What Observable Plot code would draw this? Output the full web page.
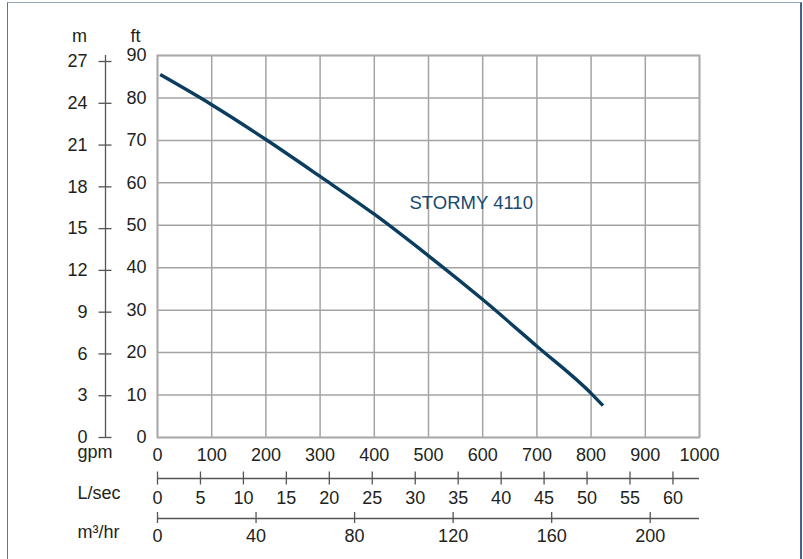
<!DOCTYPE html>
<html>
<head>
<meta charset="utf-8">
<script src="https://cdn.jsdelivr.net/npm/d3@7"></script>
<script src="https://cdn.jsdelivr.net/npm/@observablehq/plot@0.6"></script>
<style>
  html, body { margin: 0; padding: 0; background: #fff; }
  #wrap { position: relative; width: 803px; height: 559px; overflow: hidden; }
  #border { position: absolute; left: 7px; top: 2px; width: 792px; height: 600px;
            border-left: 1.5px solid #5d7699; border-right: 2px solid #41618f; border-top: 1.5px solid #93a4bd;
            pointer-events: none; }
</style>
</head>
<body>
<div id="wrap"><div id="border"></div></div>
<script>
// Pump curve (flow in gpm, head in ft)
const seriesName = "STORMY 4110";
const flowGpm = [5, 100, 200, 300, 400, 500, 600, 700, 800, 822];
const headFt  = [85.5, 78.4, 70.2, 61.5, 52.6, 42.8, 32.5, 21.5, 10.4, 7.5];

// Tick labels
const ftTicks  = [0, 10, 20, 30, 40, 50, 60, 70, 80, 90];
const mTicks   = [0, 3, 6, 9, 12, 15, 18, 21, 24, 27];
const gpmTicks = [0, 100, 200, 300, 400, 500, 600, 700, 800, 900, 1000];
const lsTicks  = [0, 5, 10, 15, 20, 25, 30, 35, 40, 45, 50, 55, 60];
const m3Ticks  = [0, 40, 80, 120, 160, 200];

// Unit conversions to the primary scales
const FT_PER_M = 3.28084;
const GPM_PER_LS = 15.8503;
const GPM_PER_M3H = 1000 / 220; // as drawn on the reference scale

const labelAt = {gpm: 465, ft: 55.3};

const curve = flowGpm.map((g, i) => ({gpm: g, ft: headFt[i]}));

const axisStroke = "#555";
const textColor = "#231f20";
const FS = 18;

const chart = Plot.plot({
  width: 803,
  height: 559,
  marginLeft: 157,
  marginRight: 104,
  marginTop: 55,
  marginBottom: 122,
  style: {fontSize: FS + "px", fontFamily: "'Liberation Sans', Arial, Helvetica, sans-serif", color: textColor, background: "transparent"},
  x: {domain: [0, 1000]},
  y: {domain: [0, 90]},
  marks: [
    Plot.gridX(gpmTicks, {stroke: "#a3a3a3", strokeOpacity: 1, strokeWidth: 1.5}),
    Plot.gridY(ftTicks, {stroke: "#a3a3a3", strokeOpacity: 1, strokeWidth: 1.5}),
    Plot.frame({stroke: "#aaaaaa", strokeWidth: 1.8}),
    // ft axis (labels only)
    Plot.axisY(ftTicks, {anchor: "left", tickSize: 0, tickPadding: 11, label: null, fill: textColor, fontSize: FS}),
    // m axis
    Plot.ruleX([0], {dx: -52, stroke: axisStroke, strokeWidth: 1.3}),
    Plot.axisY(mTicks.map(m => m * FT_PER_M), {anchor: "left", tickSize: 13, tickPadding: 11.5, dx: -45.5, fontSize: FS,
      tickFormat: d => String(Math.round(d / FT_PER_M)), label: null, stroke: axisStroke, strokeWidth: 1.3, fill: textColor}),
    // gpm axis (labels only)
    Plot.axisX(gpmTicks, {anchor: "bottom", tickSize: 0, tickPadding: 11, fontSize: FS, tickFormat: d => String(d), label: null, fill: textColor}),
    // L/sec axis
    Plot.ruleY([0], {dy: 41, stroke: axisStroke, strokeWidth: 1.3}),
    Plot.axisX(lsTicks.map(v => v * GPM_PER_LS), {anchor: "bottom", tickSize: 13, tickPadding: 6, dy: 34.5, fontSize: FS,
      tickFormat: d => String(Math.round(d / GPM_PER_LS)), label: null, stroke: axisStroke, strokeWidth: 1.3, fill: textColor}),
    // m3/hr axis
    Plot.ruleY([0], {dy: 81, stroke: axisStroke, strokeWidth: 1.3}),
    Plot.axisX(m3Ticks.map(v => v * GPM_PER_M3H), {anchor: "bottom", tickSize: 11, tickPadding: 6, dy: 75, fontSize: FS,
      tickFormat: d => String(Math.round(d / GPM_PER_M3H)), label: null, stroke: axisStroke, strokeWidth: 1.3, fill: textColor}),
    // axis unit labels
    Plot.text(["m"], {frameAnchor: "top-left", dx: -78, dy: -26, textAnchor: "middle", fill: textColor, fontSize: FS}),
    Plot.text(["ft"], {frameAnchor: "top-left", dx: -22, dy: -26, textAnchor: "middle", fill: textColor, fontSize: FS}),
    Plot.text(["gpm"], {frameAnchor: "bottom-left", dx: -80, dy: 20, textAnchor: "start", fill: textColor, fontSize: FS}),
    Plot.text(["L/sec"], {frameAnchor: "bottom-left", dx: -80, dy: 61, textAnchor: "start", fill: textColor, fontSize: FS}),
    Plot.text(["m³/hr"], {frameAnchor: "bottom-left", dx: -80, dy: 100, textAnchor: "start", fill: textColor, fontSize: FS}),
    // curve
    Plot.line(curve, {x: "gpm", y: "ft", stroke: "#0b3d5e", strokeWidth: 3.4, curve: "monotone-x", strokeLinecap: "butt"}),
    Plot.text([seriesName], {x: () => labelAt.gpm, y: () => labelAt.ft, textAnchor: "start", fill: "#164a70", fontSize: 18.5})
  ]
});
document.getElementById("wrap").prepend(chart);
</script>
</body>
</html>
